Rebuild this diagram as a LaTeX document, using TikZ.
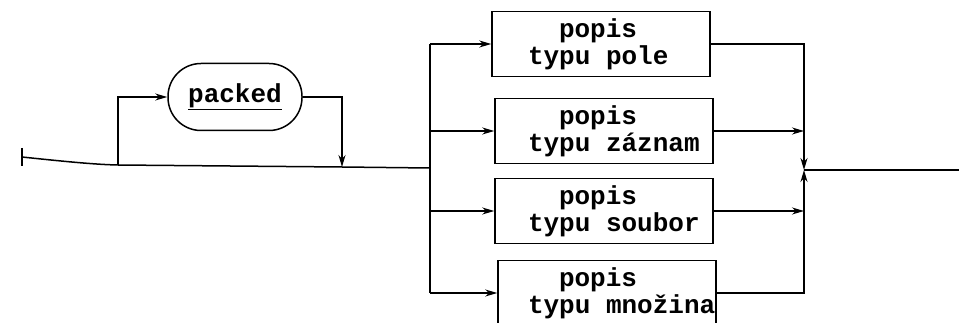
\documentclass[tikz,border=0pt]{standalone}
\usepackage{fontspec}
\setmonofont{Liberation Mono}
\usetikzlibrary{arrows.meta}
\newcommand{\msp}{\hspace*{0.6em}}
\begin{document}
\begin{tikzpicture}[x=1pt,y=-1pt,
  line width=1.5pt,
  >={Stealth[length=12pt,width=7pt]},
  lbl/.style={font=\ttfamily\bfseries\fontsize{26}{27}\selectfont},
  box/.style={draw, rectangle, lbl, minimum width=218pt, minimum height=65pt, inner ysep=0pt, align=left},
  term/.style={draw, rounded corners=33pt, lbl, minimum width=134pt, minimum height=67pt, inner sep=0pt}]
\useasboundingbox (0,0) rectangle (959,323);
\fill[white] (0,0) rectangle (959,323);

% nodes
\node[term] (pk) at (235,97) {\underline{packed}};
\node[box, inner xsep=36pt, text width=146pt] (b1) at (601,44) {\hspace*{31pt}popis\\typu\msp pole};
\node[box, inner xsep=33pt, text width=152pt] (b2) at (604,131) {\hspace*{31pt}popis\\typu\msp záznam};
\node[box, inner xsep=33pt, text width=152pt] (b3) at (604,211) {\hspace*{31pt}popis\\typu\msp soubor};
\node[box, inner xsep=30pt, text width=158pt] (b4) at (607,293) {\hspace*{31pt}popis\\typu\msp množina};

% coordinates
\coordinate (s) at (22,157);
\coordinate (j1) at (118,165);
\coordinate (j2) at (342,167);
\coordinate (j3) at (430,168);
\coordinate (m) at (804,170);
\coordinate (e) at (959,170);

% start tick and main line
\draw (22,148) -- (22,166);
\draw (s) .. controls (60,161) and (95,164.6) .. (j1) -- (j2) -- (j3);
% packed bypass
\draw[->] (j1) |- (pk.west);
\draw[->] (pk.east) -| (j2);
% branch
\draw (j3 |- b1) -- (j3 |- b4);
\draw[->] (j3 |- b1) -- (b1.west);
\draw[->] (j3 |- b2) -- (b2.west);
\draw[->] (j3 |- b3) -- (b3.west);
\draw[->] (j3 |- b4) -- (b4.west);
% merge
\draw[->] (b1.east) -| (m);
\draw[->] (b4.east) -| (m);
\draw[->] (b2.east) -- (m |- b2);
\draw[->] (b3.east) -- (m |- b3);
\draw (m) -- (e);
\end{tikzpicture}
\end{document}
